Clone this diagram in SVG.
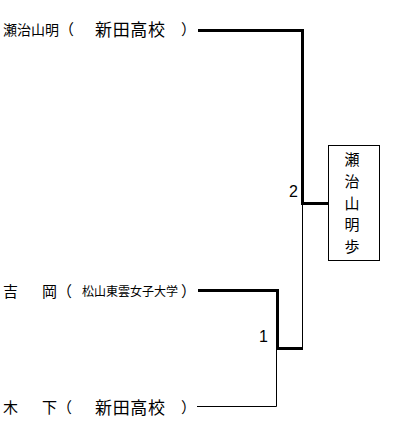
<svg xmlns="http://www.w3.org/2000/svg" width="407" height="436" viewBox="0 0 407 436">
<style>
.jp{font-family:"Noto Sans CJK JP","Noto Sans CJK SC",sans-serif;fill:#000}
.v{font-family:"Noto Sans CJK JP","Noto Sans CJK SC",sans-serif;fill:#000;font-size:15px;text-anchor:middle}
.num{font-family:"Liberation Sans",Arial,sans-serif;font-size:16px;fill:#000;text-anchor:end}
.thick{fill:none;stroke:#000;stroke-width:3}
.thin{fill:none;stroke:#000;stroke-width:1}
</style>
<rect width="407" height="436" fill="#fff"/>
<g id="connectors">
<path class="thick" d="M198 30.5H302.5V203.5H328"/>
<path class="thin" d="M302.5 205V347"/>
<path class="thick" d="M198 290.5H277.5V348.5H303"/>
<path class="thin" d="M276.5 350V406.5H197"/>
</g>
<g id="p1">
<text class="jp" x="3" y="35" font-size="14">瀬治山明<tspan font-size="15">（</tspan></text>
<text class="jp" x="95" y="36" font-size="17" textLength="70">新田高校</text>
<text class="jp" x="181" y="35" font-size="15">）</text>
</g>
<g id="p2">
<text class="jp" x="3" y="297" font-size="15">吉</text>
<text class="jp" x="42" y="297" font-size="15">岡（</text>
<text class="jp" x="82" y="296" font-size="12" textLength="96">松山東雲女子大学</text>
<text class="jp" x="181" y="297" font-size="15">）</text>
</g>
<g id="p3">
<text class="jp" x="3" y="413" font-size="15">木</text>
<text class="jp" x="42" y="413" font-size="15">下（</text>
<text class="jp" x="95" y="414" font-size="17" textLength="70">新田高校</text>
<text class="jp" x="181" y="413" font-size="15">）</text>
</g>
<g id="m1"><text class="num" x="268" y="342">1</text></g>
<g id="m2"><text class="num" x="298" y="197">2</text></g>
<g id="winner">
<rect x="328.5" y="145.5" width="51" height="115" fill="#fff" stroke="#000" stroke-width="1"/>
<text class="v" x="352" y="165">瀬</text>
<text class="v" x="352" y="187">治</text>
<text class="v" x="352" y="209">山</text>
<text class="v" x="352" y="230">明</text>
<text class="v" x="352" y="252">歩</text>
</g>
</svg>
